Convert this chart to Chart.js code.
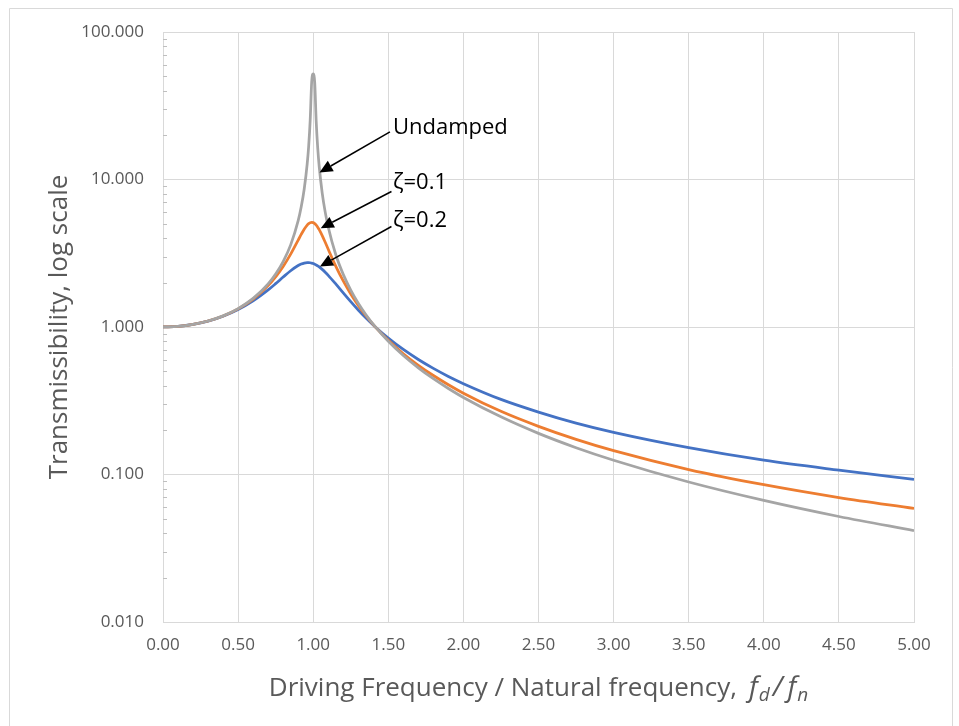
<!DOCTYPE html>
<html>
<head>
<meta charset="utf-8">
<script src="https://cdn.jsdelivr.net/npm/chart.js@4/dist/chart.umd.min.js"></script>
<style>
  body { margin: 0; background: #fff; }
  canvas { display: block; }
</style>
</head>
<body>
<canvas id="myChart" width="959" height="726"></canvas>
<script>
// values
const frequencyRatio = [0, 0.1, 0.2, 0.3, 0.4, 0.5, 0.6, 0.7, 0.75, 0.8, 0.85, 0.9, 0.92, 0.94, 0.96, 0.97, 0.98, 0.99, 1.0, 1.01, 1.02, 1.03, 1.04, 1.06, 1.08, 1.1, 1.15, 1.2, 1.25, 1.3, 1.35, 1.41, 1.5, 1.6, 1.7, 1.8, 1.9, 2.0, 2.25, 2.5, 2.75, 3.0, 3.5, 4.0, 4.5, 5.0];
const undamped = [1.000, 1.010, 1.042, 1.099, 1.190, 1.333, 1.563, 1.961, 2.286, 2.778, 3.604, 5.263, 6.510, 8.591, 12.76, 16.92, 25.25, 46.0, 52.0, 45.5, 24.75, 16.42, 12.25, 8.091, 6.010, 4.762, 3.101, 2.273, 1.778, 1.449, 1.216, 1.012, 0.800, 0.641, 0.529, 0.446, 0.383, 0.333, 0.246, 0.190, 0.152, 0.125, 0.0889, 0.0667, 0.0519, 0.0417];
const zeta01 = [1.000, 1.010, 1.042, 1.099, 1.189, 1.328, 1.547, 1.909, 2.186, 2.571, 3.117, 3.882, 4.242, 4.602, 4.910, 5.023, 5.096, 5.123, 5.099, 5.026, 4.908, 4.753, 4.571, 4.166, 3.752, 3.367, 2.590, 2.052, 1.675, 1.401, 1.197, 1.011, 0.812, 0.659, 0.550, 0.469, 0.406, 0.356, 0.268, 0.212, 0.173, 0.145, 0.108, 0.0853, 0.0698, 0.0589];
const zeta02 = [1.000, 1.010, 1.041, 1.097, 1.184, 1.314, 1.505, 1.785, 1.968, 2.180, 2.407, 2.611, 2.672, 2.714, 2.733, 2.733, 2.726, 2.713, 2.693, 2.666, 2.634, 2.597, 2.555, 2.459, 2.353, 2.241, 1.959, 1.704, 1.486, 1.305, 1.155, 1.009, 0.841, 0.704, 0.602, 0.524, 0.462, 0.413, 0.323, 0.265, 0.223, 0.193, 0.152, 0.125, 0.107, 0.0928];
const yTicks = [0.01, 0.1, 1, 10, 100];
const xTicks = [0, 0.5, 1, 1.5, 2, 2.5, 3, 3.5, 4, 4.5, 5];

// callouts: text anchor, arrow start and arrow tip, in data units
const calloutLabels = ['Undamped', 'ζ=0.1', 'ζ=0.2'];
const calloutText = [[1.531, 22.3], [1.531, 9.47], [1.531, 5.23]];
const calloutFrom = [[1.511, 21.0], [1.521, 8.29], [1.521, 4.80]];
const calloutTo = [[1.042, 11.16], [1.050, 4.67], [1.045, 2.57]];

const FONT = "'Open Sans', 'Noto Sans', sans-serif";
const GRID = '#d9d9d9';
const AXIS_TEXT = '#595959';

function pts(ys) {
  return frequencyRatio.map((x, i) => ({ x: x, y: ys[i] }));
}

const overlay = {
  id: 'overlay',
  afterDraw(chart) {
    const ctx = chart.ctx;
    const xs = chart.scales.x, ys = chart.scales.y;
    const area = chart.chartArea;
    ctx.save();

    // outer chart border
    ctx.strokeStyle = '#d9d9d9';
    ctx.lineWidth = 1;
    ctx.beginPath();
    ctx.moveTo(9.5, 730);
    ctx.lineTo(9.5, 8.5);
    ctx.lineTo(952.5, 8.5);
    ctx.lineTo(952.5, 730);
    ctx.stroke();

    // minor tick marks on the log axis
    ctx.strokeStyle = '#bfbfbf';
    ctx.beginPath();
    for (let d = 0; d < yTicks.length - 1; d++) {
      for (let k = 2; k <= 9; k++) {
        const py = Math.round(ys.getPixelForValue(yTicks[d] * k)) + 0.5;
        ctx.moveTo(area.left, py);
        ctx.lineTo(area.left + 4, py);
      }
    }
    ctx.stroke();

    // y title
    ctx.fillStyle = AXIS_TEXT;
    ctx.font = '26px ' + FONT;
    ctx.textAlign = 'center';
    ctx.textBaseline = 'alphabetic';
    ctx.save();
    ctx.translate(67, (area.top + area.bottom) / 2);
    ctx.rotate(-Math.PI / 2);
    ctx.fillText('Transmissibility, log scale', 0, 0);
    ctx.restore();

    // x title with italic subscripts
    const parts = [
      { t: 'Driving Frequency / Natural frequency,', f: '26px ' + FONT, dy: 0, gap: 12 },
      { t: 'f', f: 'italic 28px ' + FONT, dy: 0, gap: 1 },
      { t: 'd', f: 'italic 19px ' + FONT, dy: 5, gap: 3 },
      { t: '/', f: 'italic 28px ' + FONT, dy: 0, gap: 5 },
      { t: 'f', f: 'italic 28px ' + FONT, dy: 0, gap: 1 },
      { t: 'n', f: 'italic 19px ' + FONT, dy: 5, gap: 0 }
    ];
    let total = 0;
    parts.forEach(p => { ctx.font = p.f; p.w = ctx.measureText(p.t).width; total += p.w + p.gap; });
    let cx = (area.left + area.right) / 2 - total / 2;
    ctx.textAlign = 'left';
    parts.forEach(p => {
      ctx.font = p.f;
      ctx.fillText(p.t, cx, 696 + p.dy);
      cx += p.w + p.gap;
    });

    // callouts with arrows
    ctx.fillStyle = '#000';
    ctx.strokeStyle = '#000';
    ctx.lineWidth = 1.5;
    ctx.font = '22px ' + FONT;
    ctx.textBaseline = 'middle';
    calloutLabels.forEach((label, i) => {
      const tx = xs.getPixelForValue(calloutText[i][0]);
      const ty = ys.getPixelForValue(calloutText[i][1]);
      ctx.fillText(label, tx, ty);
      const x0 = xs.getPixelForValue(calloutFrom[i][0]);
      const y0 = ys.getPixelForValue(calloutFrom[i][1]);
      const x1 = xs.getPixelForValue(calloutTo[i][0]);
      const y1 = ys.getPixelForValue(calloutTo[i][1]);
      const ang = Math.atan2(y1 - y0, x1 - x0);
      const len = 13, half = 6;
      const bx = x1 - len * Math.cos(ang), by = y1 - len * Math.sin(ang);
      ctx.beginPath();
      ctx.moveTo(x0, y0);
      ctx.lineTo(bx, by);
      ctx.stroke();
      ctx.beginPath();
      ctx.moveTo(x1, y1);
      ctx.lineTo(bx + half * Math.sin(ang), by - half * Math.cos(ang));
      ctx.lineTo(bx - half * Math.sin(ang), by + half * Math.cos(ang));
      ctx.closePath();
      ctx.fill();
    });
    ctx.restore();
  }
};

const ctx = document.getElementById('myChart').getContext('2d');
new Chart(ctx, {
  type: 'line',
  data: {
    datasets: [
      { label: 'Undamped', data: pts(undamped), borderColor: '#A5A5A5' },
      { label: 'ζ=0.1', data: pts(zeta01), borderColor: '#ED7D31' },
      { label: 'ζ=0.2', data: pts(zeta02), borderColor: '#4472C4' }
    ]
  },
  options: {
    responsive: false,
    animation: false,
    layout: { padding: { left: 0, top: 32, right: 45, bottom: 0 } },
    elements: {
      point: { radius: 0 },
      line: { borderWidth: 2.75, cubicInterpolationMode: 'monotone', fill: false }
    },
    plugins: {
      legend: { display: false },
      tooltip: { enabled: false }
    },
    scales: {
      x: {
        type: 'linear',
        min: 0,
        max: 5,
        afterFit(scale) { scale.height = 104; },
        afterBuildTicks(scale) { scale.ticks = xTicks.map(v => ({ value: v })); },
        grid: { color: GRID, drawTicks: false },
        border: { color: GRID },
        ticks: {
          padding: 13,
          color: AXIS_TEXT,
          font: { family: FONT, size: 17 },
          maxRotation: 0,
          callback: v => v.toFixed(2)
        }
      },
      y: {
        type: 'logarithmic',
        min: 0.01,
        max: 100,
        afterFit(scale) { scale.width = 163; },
        afterBuildTicks(scale) { scale.ticks = yTicks.map(v => ({ value: v })); },
        grid: { color: GRID, drawTicks: false },
        border: { color: GRID },
        ticks: {
          padding: 19,
          color: AXIS_TEXT,
          font: { family: FONT, size: 17 },
          callback: v => Number(v).toFixed(3)
        }
      }
    }
  },
  plugins: [overlay]
});
</script>
</body>
</html>
